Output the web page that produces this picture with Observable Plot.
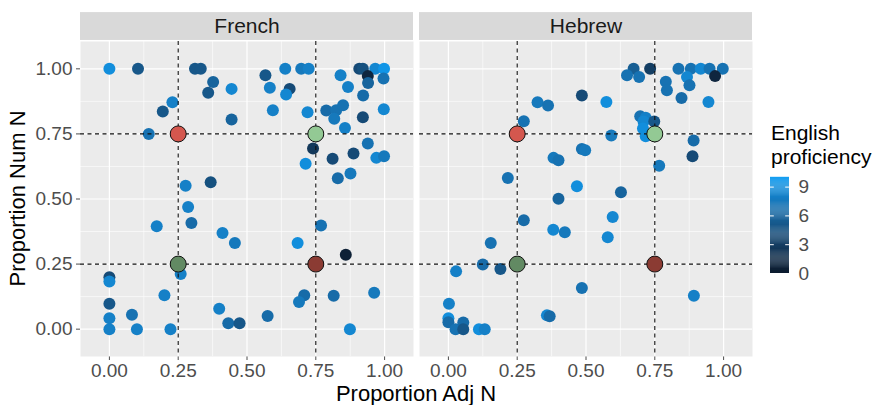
<!DOCTYPE html>
<html><head><meta charset="utf-8">
<script src="https://cdn.jsdelivr.net/npm/d3@7"></script>
<script src="https://cdn.jsdelivr.net/npm/@observablehq/plot@0.6"></script>
<style>
body{margin:0;background:#fff;}
#wrap{position:relative;width:877px;height:405px;overflow:hidden;font-family:"Liberation Sans",Arial,sans-serif;}
#wrap svg{position:absolute;}
</style></head><body><div id="wrap"></div>
<script>
// ---- data ----
const panels = ["French", "Hebrew"];
const majorTicks = [0, 0.25, 0.5, 0.75, 1];
const minorTicks = [0.125, 0.375, 0.625, 0.875];
const refLines = [0.25, 0.75];

const frenchX = [0.000,0.104,0.311,0.332,0.377,0.444,0.359,0.229,0.194,0.444,0.143,0.277,0.368,0.567,0.639,0.697,0.724,0.583,0.655,0.642,0.594,0.720,0.840,0.908,0.921,0.966,0.998,0.939,0.996,0.940,0.867,0.922,0.788,0.824,0.849,0.817,0.921,0.997,0.856,0.740,0.713,0.811,0.887,0.939,0.970,0.998,0.830,0.876,0.286,0.298,0.172,0.411,0.456,0.259,0.000,0.000,0.000,0.200,0.000,0.082,0.000,0.100,0.222,0.399,0.432,0.473,0.769,0.684,0.859,0.708,0.689,0.815,0.962,0.575,0.874];
const frenchY = [1.000,1.000,1.000,1.000,0.949,0.923,0.908,0.872,0.836,0.805,0.750,0.551,0.564,0.975,1.000,1.000,1.000,0.927,0.923,0.901,0.841,0.833,0.975,1.000,1.000,1.000,1.000,0.972,0.963,0.946,0.930,0.898,0.840,0.841,0.860,0.808,0.814,0.845,0.773,0.694,0.635,0.655,0.675,0.713,0.658,0.664,0.580,0.598,0.469,0.408,0.395,0.369,0.331,0.212,0.199,0.183,0.098,0.130,0.042,0.055,0.000,0.000,0.000,0.078,0.023,0.023,0.398,0.331,0.286,0.130,0.104,0.128,0.140,0.051,0.000];
const frenchProf = [9,5,5,5,6,8.5,5,8,5,6,7,8,4.5,5,8,7.5,8,8,4,8.5,8,8.5,8,4,4.5,8.5,9.5,1,7,6,8,6.5,6.5,7,7,7.5,4,8.5,8,2.5,9,4,4,7,8.5,7.5,6.5,7.5,8,6.5,8,8,7.5,8,4,8.5,5,8,8,7,8,8,8,8,6.5,5,7,9,0.5,6.5,7.5,6.5,7.5,6.5,8.5];

const hebrewX = [0.485,0.324,0.362,0.274,0.485,0.497,0.382,0.400,0.216,0.467,0.400,0.673,0.649,0.693,0.733,0.836,0.881,0.917,0.949,0.997,0.969,0.867,0.876,0.790,0.794,0.847,0.945,0.574,0.697,0.717,0.709,0.748,0.707,0.717,0.592,0.891,0.887,0.766,0.627,0.274,0.381,0.423,0.154,0.028,0.125,0.189,0.485,0.002,0.000,0.000,0.026,0.054,0.054,0.111,0.132,0.358,0.368,0.597,0.579,0.892];
const hebrewY = [0.898,0.872,0.859,0.799,0.692,0.687,0.658,0.649,0.581,0.549,0.501,1.000,0.975,0.969,1.000,1.000,1.000,1.000,1.000,1.000,0.972,0.969,0.937,0.950,0.918,0.888,0.873,0.873,0.818,0.812,0.798,0.798,0.771,0.741,0.744,0.725,0.664,0.628,0.526,0.418,0.382,0.372,0.331,0.222,0.248,0.231,0.158,0.098,0.042,0.027,0.000,0.026,0.000,0.000,0.000,0.053,0.050,0.431,0.353,0.128];
const hebrewProf = [4,7.5,7,7,7,7.5,7.5,7,7,9,6,5.5,7,7,3,7,7,8.5,7,7,1,8.5,7,7,7,6.5,8.5,9,7,8,8.5,5,9,9,7.5,6.5,4,7.5,6,6.5,8.5,7.5,7,8,6.5,5,7,8,9,6.5,7,6.5,5,9,8,8.5,6.5,8.5,8.5,8];

const refX = [0.25, 0.75, 0.25, 0.75];
const refY = [0.75, 0.75, 0.25, 0.25];
const refFill = ["#D4574E", "#93C994", "#628A63", "#8B3B33"];

const legendTicks = [0, 3, 6, 9];
const colorLow = "#0C1B2E", colorHigh = "#0D9CF2";

// ---- build tables ----
const points = [];
frenchX.forEach((x, i) => points.push({lang: "French", x, y: frenchY[i], p: frenchProf[i]}));
hebrewX.forEach((x, i) => points.push({lang: "Hebrew", x, y: hebrewY[i], p: hebrewProf[i]}));
const refs = refX.map((x, i) => ({x, y: refY[i], c: refFill[i]}));
const strips = panels.map(lang => ({lang}));

const font = "Liberation Sans, Arial, sans-serif";
const dom = [-0.105, 1.105];

const main = Plot.plot({
  width: 877, height: 405,
  marginLeft: 80, marginRight: 125, marginTop: 41, marginBottom: 49,
  style: {fontFamily: font, fontSize: "19px", color: "#4d4d4d", background: "transparent", overflow: "visible"},
  fx: {domain: panels, paddingInner: 0.018, paddingOuter: 0, axis: null, label: null},
  x: {domain: dom, ticks: majorTicks, tickFormat: d3.format(".2f"), tickSize: 4, tickPadding: 3, label: null},
  y: {domain: dom, ticks: majorTicks, tickFormat: d3.format(".2f"), tickSize: 4, tickPadding: 4, label: null},
  color: {type: "linear", domain: [0, 10], range: [colorLow, colorHigh], interpolate: "lab"},
  marks: [
    Plot.frame({fill: "#EBEBEB", stroke: null}),
    Plot.ruleX(minorTicks, {stroke: "white", strokeWidth: 0.6}),
    Plot.ruleY(minorTicks, {stroke: "white", strokeWidth: 0.6}),
    Plot.ruleX(majorTicks, {stroke: "white", strokeWidth: 1.2}),
    Plot.ruleY(majorTicks, {stroke: "white", strokeWidth: 1.2}),
    Plot.rect(strips, {fx: "lang", x1: dom[0], x2: dom[1], y1: 1.109, y2: 1.216, fill: "#D9D9D9"}),
    Plot.text(strips, {fx: "lang", x: 0.5, y: 1.1625, text: "lang", fill: "#1a1a1a", fontSize: 21}),
    Plot.dot(points, {fx: "lang", x: "x", y: "y", fill: "p", r: 6, stroke: null}),
    Plot.ruleX(refLines, {stroke: "#111", strokeWidth: 1.1, strokeDasharray: "4,3.5"}),
    Plot.ruleY(refLines, {stroke: "#111", strokeWidth: 1.1, strokeDasharray: "4,3.5"}),
    Plot.dot(refs, {x: "x", y: "y", fill: d => d.c, r: 8, stroke: "#111", strokeWidth: 1})
  ]
});
main.style.left = "0px"; main.style.top = "0px";
document.getElementById("wrap").appendChild(main);

const legend = Plot.plot({
  width: 60, height: 120, marginTop: 12, marginBottom: 12, marginLeft: 0, marginRight: 41,
  style: {fontFamily: font, fontSize: "19px", background: "transparent", overflow: "visible"},
  x: {domain: [0, 1], axis: null},
  y: {domain: [0, 10], axis: null},
  color: {type: "linear", domain: [0, 10], range: [colorLow, colorHigh], interpolate: "lab"},
  marks: [
    Plot.rect(d3.range(100), {x1: 0, x2: 1, y1: i => i / 10, y2: i => (i + 1.2) / 10, fill: i => (i + 0.5) / 10}),
    Plot.ruleY(legendTicks, {x1: 0, x2: 0.2, stroke: "white", strokeWidth: 1}),
    Plot.ruleY(legendTicks, {x1: 0.8, x2: 1, stroke: "white", strokeWidth: 1}),
    Plot.text(legendTicks, {x: 1, y: d => d, text: d => String(d), dx: 9, textAnchor: "start", fill: "#4d4d4d", fontSize: 19})
  ]
});
legend.style.left = "770px"; legend.style.top = "165px";
document.getElementById("wrap").appendChild(legend);

// titles overlay
const ns = "http://www.w3.org/2000/svg";
const ov = document.createElementNS(ns, "svg");
ov.setAttribute("width", 877); ov.setAttribute("height", 405);
ov.style.left = "0px"; ov.style.top = "0px"; ov.style.pointerEvents = "none";
function addText(txt, x, y, size, anchor, rot) {
  const t = document.createElementNS(ns, "text");
  t.textContent = txt;
  t.setAttribute("font-family", font);
  t.setAttribute("font-size", size);
  t.setAttribute("fill", "#000");
  t.setAttribute("text-anchor", anchor);
  if (rot) t.setAttribute("transform", `translate(${x},${y}) rotate(${rot})`);
  else { t.setAttribute("x", x); t.setAttribute("y", y); }
  ov.appendChild(t);
}
addText("Proportion Adj N", 416, 401, 22, "middle");
addText("Proportion Num N", 24.5, 198.5, 22, "middle", -90);
addText("English", 771, 140, 21, "start");
addText("proficiency", 771, 164, 21, "start");
document.getElementById("wrap").appendChild(ov);
</script></body></html>
